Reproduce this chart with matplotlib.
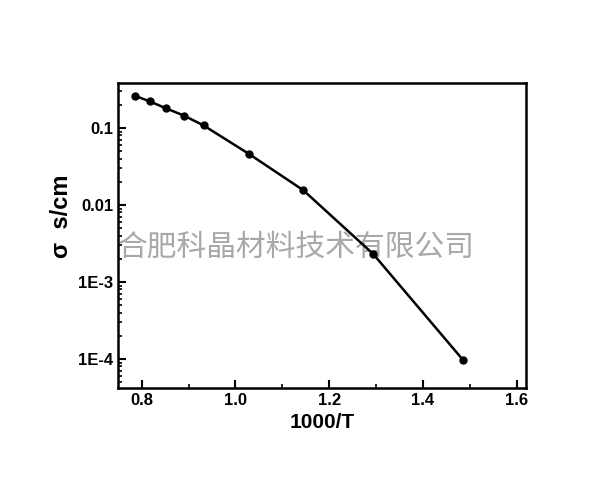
import numpy as np
import matplotlib.pyplot as plt
from matplotlib.ticker import FixedLocator, LogLocator, NullFormatter, MultipleLocator

plt.rcParams['font.family'] = ['Liberation Sans', 'DejaVu Sans']

# Data
inv_t = [0.785, 0.817, 0.852, 0.890, 0.932, 1.028, 1.145, 1.294, 1.486]
sigma = [0.263, 0.222, 0.180, 0.145, 0.108, 0.0464, 0.0155, 0.0023, 9.6e-5]

y_ticks = [1e-4, 1e-3, 1e-2, 1e-1]
y_labels = ['1E-4', '1E-3', '0.01', '0.1']
x_ticks = [0.8, 1.0, 1.2, 1.4, 1.6]

fig = plt.figure(figsize=(6, 5), dpi=100)
ax = fig.add_axes([0.197, 0.224, 0.68, 0.61])
ax.patch.set_alpha(0)

ax.plot(inv_t, sigma, '-o', color='black', lw=1.8, ms=5)

ax.set_yscale('log')
ax.set_xlim(0.75, 1.62)
ax.set_ylim(4.2e-5, 0.384)

ax.yaxis.set_major_locator(FixedLocator(y_ticks))
ax.set_yticklabels(y_labels)
ax.yaxis.set_minor_locator(LogLocator(base=10, subs=np.arange(2, 10)))
ax.yaxis.set_minor_formatter(NullFormatter())
ax.set_xticks(x_ticks)
ax.set_xticklabels(['%.1f' % v for v in x_ticks])
ax.xaxis.set_minor_locator(MultipleLocator(0.1))

ax.tick_params(which='both', direction='in', top=False, right=False)
ax.tick_params(which='major', length=6, width=1.5, labelsize=12)
ax.tick_params(which='minor', length=3, width=1.2)
for lab in ax.get_xticklabels() + ax.get_yticklabels():
    lab.set_fontweight('bold')
for s in ax.spines.values():
    s.set_linewidth(1.8)

ax.set_xlabel('1000/T', fontsize=15, fontweight='bold')
ax.set_ylabel('σ  s/cm', fontsize=17, fontweight='bold')
ax.yaxis.set_label_coords(-0.11, 0.564)

# watermark, behind the curve
fig.text(0.197, 0.505, '合肥科晶材料技术有限公司', fontsize=21.4, color='#a8a8a8',
         family=['Noto Sans CJK SC', 'DejaVu Sans'],
         va='center', ha='left', zorder=-1)

fig.savefig('out.png', dpi=100)
